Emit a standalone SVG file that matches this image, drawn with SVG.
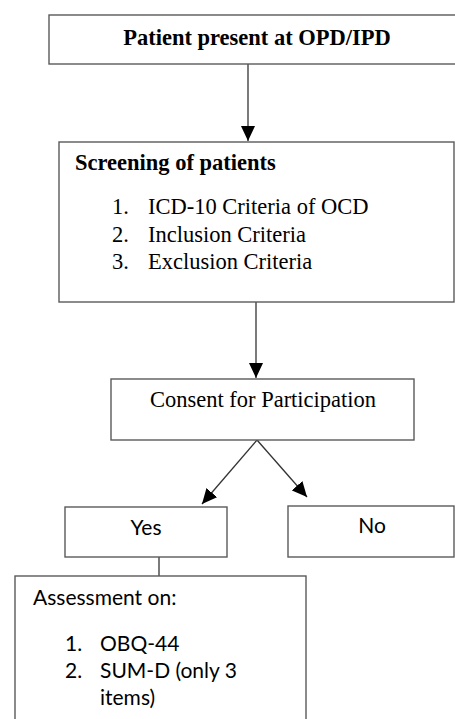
<svg xmlns="http://www.w3.org/2000/svg" width="455" height="719" viewBox="0 0 455 719">
<style>
.box{fill:#fff;stroke:#5a5a5a;stroke-width:1.4}
.ser{font-family:"Liberation Serif","Times New Roman",serif;font-size:22.5px;fill:#000}
.b{font-weight:bold}
.sans{font-family:Lato,"Liberation Sans",sans-serif;font-size:21px;fill:#000}
.ln{stroke:#333;stroke-width:1.3;fill:none}
</style>
<defs>
<marker id="ah2" markerWidth="15" markerHeight="14" refX="15" refY="7" orient="auto" markerUnits="userSpaceOnUse" viewBox="0 0 15 14">
<path d="M0,0 L15,7 L0,14 z" fill="#000"/>
</marker>
</defs>
<rect width="455" height="719" fill="#fff"/>
<g id="connectors">
<line class="ln" x1="248" y1="64" x2="248" y2="141" marker-end="url(#ah2)"/>
<line class="ln" x1="256" y1="302" x2="256" y2="378" marker-end="url(#ah2)"/>
<line class="ln" x1="257" y1="440" x2="202" y2="504" marker-end="url(#ah2)"/>
<line class="ln" x1="257" y1="440" x2="307" y2="497" marker-end="url(#ah2)"/>
<line class="ln" x1="159" y1="557" x2="159" y2="576"/>
</g>
<g id="n1">
<rect class="box" x="49" y="15" width="410" height="49"/>
<text class="ser b" x="257" y="45" text-anchor="middle">Patient present at OPD/IPD</text>
</g>
<g id="n2">
<rect class="box" x="59" y="142" width="395" height="160"/>
<text class="ser b" x="75" y="170">Screening of patients</text>
<text class="ser" x="112" y="214">1.</text><text class="ser" x="148" y="214">ICD-10 Criteria of OCD</text>
<text class="ser" x="112" y="242">2.</text><text class="ser" x="148" y="242">Inclusion Criteria</text>
<text class="ser" x="112" y="269">3.</text><text class="ser" x="148" y="269">Exclusion Criteria</text>
</g>
<g id="n3">
<rect class="box" x="111" y="379" width="303" height="61"/>
<text class="ser" x="263" y="407" text-anchor="middle">Consent for Participation</text>
</g>
<g id="n4">
<rect class="box" x="65" y="507" width="162" height="50"/>
<text class="sans" x="146" y="535" text-anchor="middle">Yes</text>
</g>
<g id="n5">
<rect class="box" x="288" y="506" width="166" height="51"/>
<text class="sans" x="372" y="533" text-anchor="middle">No</text>
</g>
<g id="n6">
<rect class="box" x="15" y="576" width="291" height="160"/>
<text class="sans" x="33" y="605">Assessment on:</text>
<text class="sans" x="65" y="651">1.</text><text class="sans" x="100" y="651">OBQ-44</text>
<text class="sans" x="65" y="678">2.</text><text class="sans" x="100" y="678">SUM-D (only 3</text>
<text class="sans" x="100" y="705">items)</text>
</g>
</svg>
